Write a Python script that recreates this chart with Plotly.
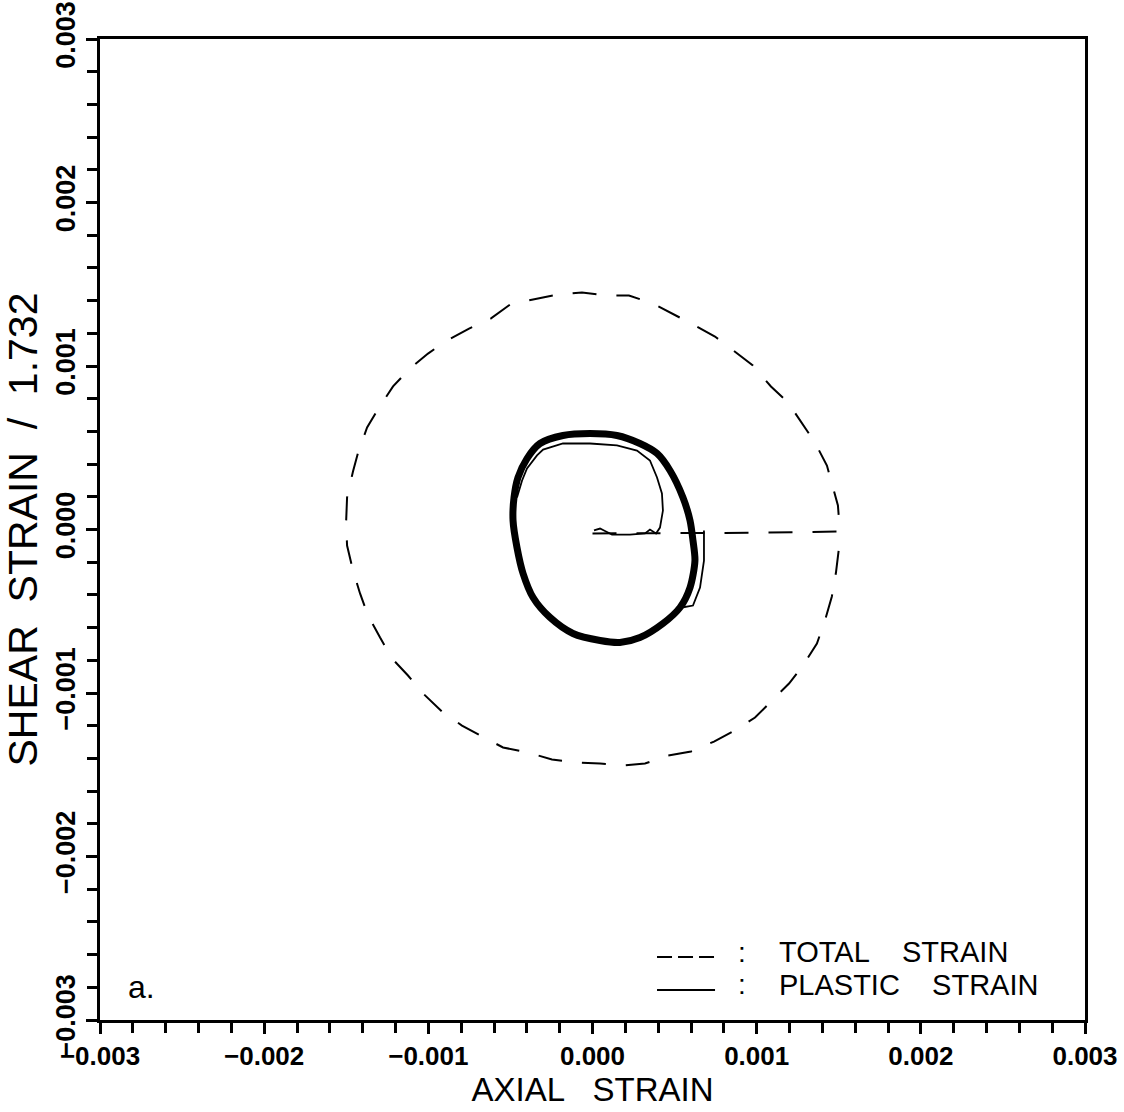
import plotly.graph_objects as go

# ---- data (strain units x 1e-3 scaled below) ----
total_x = [0.000, 0.500, 1.000, 1.507, 1.495, 1.465, 1.428, 1.355, 1.276, 1.191, 1.087, 0.977, 0.874,
           0.746, 0.624, 0.484, 0.368, 0.222, 0.082, -0.064, -0.210, -0.362, -0.502, -0.618,
           -0.752, -0.886, -1.002, -1.118, -1.215, -1.300, -1.373, -1.428, -1.459, -1.495,
           -1.501, -1.495, -1.459, -1.416, -1.367, -1.294, -1.221, -1.124, -1.032, -0.917,
           -0.795, -0.661, -0.545, -0.393, -0.247, -0.101, 0.046, 0.186, 0.320, 0.460, 0.600,
           0.740, 0.868, 0.990, 1.093, 1.197, 1.282, 1.367, 1.416, 1.458, 1.483, 1.501, 1.507]
total_y = [-0.024, -0.024, -0.020, -0.012, 0.147, 0.257, 0.391, 0.532, 0.648, 0.777, 0.875, 1.003, 1.083,
           1.180, 1.248, 1.321, 1.382, 1.431, 1.431, 1.450, 1.437, 1.407, 1.376, 1.291,
           1.229, 1.156, 1.076, 0.979, 0.875, 0.746, 0.624, 0.471, 0.355, 0.196,
           0.043, -0.098, -0.251, -0.391, -0.526, -0.661, -0.789, -0.893, -1.003, -1.113,
           -1.199, -1.272, -1.333, -1.364, -1.407, -1.425, -1.431, -1.443, -1.431, -1.382, -1.358,
           -1.297, -1.229, -1.150, -1.046, -0.942, -0.832, -0.697, -0.557, -0.410, -0.263, -0.116, -0.012]

plastic_first_x = [0.009, 0.046, 0.082, 0.119, 0.228, 0.320, 0.350, 0.387, 0.411, 0.429, 0.423,
                   0.393, 0.350, 0.271, 0.149, -0.015, -0.180, -0.301, -0.338, -0.399, -0.429, -0.460]
plastic_first_y = [-0.006, 0.006, -0.012, -0.031, -0.031, -0.024, 0.000, -0.024, 0.012, 0.116, 0.220,
                   0.318, 0.422, 0.483, 0.514, 0.526, 0.526, 0.489, 0.453, 0.373, 0.300, 0.196]

plastic_cycle_x = [-0.015, 0.149, 0.289, 0.393, 0.472, 0.551, 0.594, 0.612, 0.624, 0.594, 0.533,
                   0.429, 0.289, 0.167, 0.046, -0.119, -0.259, -0.362, -0.423, -0.460, -0.484,
                   -0.478, -0.454, -0.399, -0.320, -0.180, -0.015]
plastic_cycle_y = [0.587, 0.575, 0.526, 0.465, 0.361, 0.196, 0.055, -0.067, -0.190, -0.355, -0.477,
                   -0.575, -0.661, -0.691, -0.679, -0.636, -0.538, -0.416, -0.269, -0.110, 0.055,
                   0.196, 0.318, 0.434, 0.526, 0.575, 0.587]

plastic_tail_x = [0.679, 0.679, 0.655, 0.612, 0.545]
plastic_tail_y = [-0.006, -0.190, -0.355, -0.465, -0.477]

SCALE = 1e-3
def sc(v):
    return [a * SCALE for a in v]

tick_vals = [-0.003, -0.002, -0.001, 0.0, 0.001, 0.002, 0.003]
tick_text = ["\u22120.003", "\u22120.002", "\u22120.001", "0.000", "0.001", "0.002", "0.003"]

FONT = "Liberation Sans, Arial, sans-serif"

fig = go.Figure()
fig.add_trace(go.Scatter(x=sc(total_x), y=sc(total_y), mode="lines", name="TOTAL STRAIN",
                         line=dict(color="black", width=2, dash="24px,20px"), showlegend=False))
fig.add_trace(go.Scatter(x=sc(plastic_first_x), y=sc(plastic_first_y), mode="lines", name="PLASTIC STRAIN",
                         line=dict(color="black", width=1.8), showlegend=False))
fig.add_trace(go.Scatter(x=sc(plastic_cycle_x), y=sc(plastic_cycle_y), mode="lines", name="PLASTIC STRAIN",
                         line=dict(color="black", width=7, shape="spline", smoothing=0.8), showlegend=False))
fig.add_trace(go.Scatter(x=sc(plastic_tail_x), y=sc(plastic_tail_y), mode="lines", name="PLASTIC STRAIN",
                         line=dict(color="black", width=1.8), showlegend=False))

axis_common = dict(
    range=[-0.003, 0.003], showgrid=False, zeroline=False, automargin=False,
    ticklabeloverflow="allow",
    showline=True, linecolor="black", linewidth=3, mirror=True,
    ticks="outside", ticklen=11, tickwidth=2.5, tickcolor="black",
    tickvals=tick_vals, ticktext=tick_text,
    minor=dict(dtick=0.0002, tick0=0, ticks="outside", ticklen=10, tickwidth=2.5, tickcolor="black", showgrid=False),
)

fig.update_xaxes(**axis_common,
                 tickfont=dict(family=FONT, size=26, color="black", weight="bold"),
                 title=dict(text="AXIAL\u00a0\u00a0\u00a0STRAIN", font=dict(family=FONT, size=33, color="black"), standoff=2))
fig.update_yaxes(**axis_common, tickangle=-90,
                 tickfont=dict(family=FONT, size=27, color="black", weight="bold"),
                 title=dict(text="SHEAR\u00a0\u00a0STRAIN\u00a0\u00a0/\u00a0\u00a01.732", font=dict(family=FONT, size=41, color="black"), standoff=6))

# legend drawn inside the plot frame (bottom right)
fig.add_shape(type="line", xref="paper", yref="paper", x0=0.5655, x1=0.6244, y0=0.0642, y1=0.0642,
              line=dict(color="black", width=1.8, dash="15px,6px"))
fig.add_shape(type="line", xref="paper", yref="paper", x0=0.5655, x1=0.6244, y0=0.0306, y1=0.0306,
              line=dict(color="black", width=1.8))
for yy, txt in [(0.0693, "TOTAL\u00a0\u00a0\u00a0\u00a0STRAIN"), (0.0357, "PLASTIC\u00a0\u00a0\u00a0\u00a0STRAIN")]:
    fig.add_annotation(xref="paper", yref="paper", x=0.652, y=yy, text=":", showarrow=False,
                       font=dict(family=FONT, size=28, color="black"), xanchor="center", yanchor="middle")
    fig.add_annotation(xref="paper", yref="paper", x=0.687, y=yy, text=txt, showarrow=False,
                       font=dict(family=FONT, size=29, color="black"), xanchor="left", yanchor="middle")
fig.add_annotation(xref="paper", yref="paper", x=0.042, y=0.034, text="a.", showarrow=False,
                   font=dict(family=FONT, size=32, color="black"), xanchor="center", yanchor="middle")

fig.update_layout(
    width=1124, height=1112,
    margin=dict(l=100, r=39, t=39, b=92),
    paper_bgcolor="white", plot_bgcolor="white",
    showlegend=False,
)

fig.write_html("out.html")
